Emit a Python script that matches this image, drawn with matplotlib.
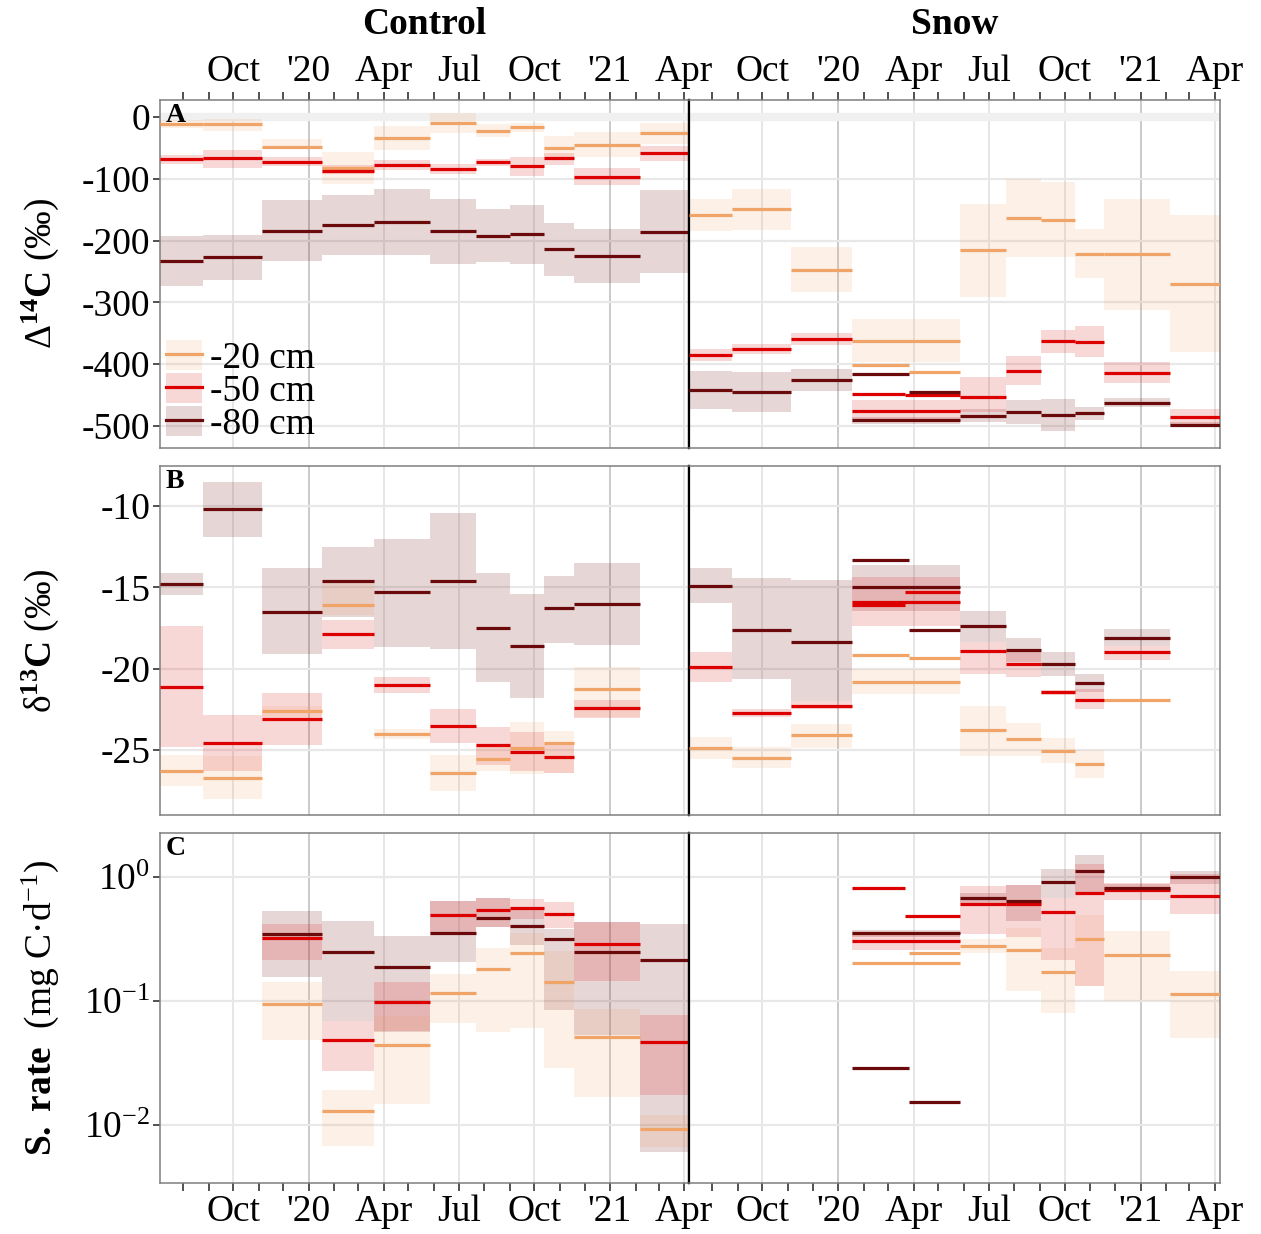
import matplotlib
matplotlib.use('Agg')
import matplotlib.pyplot as plt
import matplotlib.dates as mdates
from matplotlib.patches import Patch
from matplotlib.lines import Line2D
from matplotlib.ticker import FuncFormatter, FixedLocator
import numpy as np

plt.rcParams['font.family'] = ['Liberation Serif', 'DejaVu Serif']
plt.rcParams['mathtext.fontset'] = 'custom'
plt.rcParams['mathtext.rm'] = 'Liberation Serif'
plt.rcParams['mathtext.it'] = 'Liberation Serif:italic'
plt.rcParams['mathtext.bf'] = 'Liberation Serif:bold'
plt.rcParams['axes.unicode_minus'] = False

# ---------------- data: (start, end, value, low, high) ----------------
N = None
# Panel A: Delta14C, Control
a_c20 = [('2019-07-04', '2019-08-25', -11, -17, -5), ('2019-08-25', '2019-11-05', -11, -22, -3),
         ('2019-11-05', '2020-01-17', -49, -52, -35), ('2020-01-17', '2020-03-20', -83, -108, -56),
         ('2020-03-20', '2020-05-27', -34, -53, -15), ('2020-05-27', '2020-07-22', -9, -26, 7),
         ('2020-07-22', '2020-09-02', -22, -32, -12), ('2020-09-02', '2020-10-13', -16, -25, -9),
         ('2020-10-13', '2020-11-18', -50, -65, -30), ('2020-11-18', '2021-02-06', -45, -65, -25),
         ('2021-02-06', '2021-04-07', -26, -43, -9)]
a_c50 = [('2019-07-04', '2019-08-25', -68, -76, -61), ('2019-08-25', '2019-11-05', -66, -82, -53),
         ('2019-11-05', '2020-01-17', -73, -80, -65), ('2020-01-17', '2020-03-20', -87, -93, -78),
         ('2020-03-20', '2020-05-27', -78, -86, -70), ('2020-05-27', '2020-07-22', -84, -92, -76),
         ('2020-07-22', '2020-09-02', -73, -79, -68), ('2020-09-02', '2020-10-13', -80, -96, -64),
         ('2020-10-13', '2020-11-18', -67, -77, -58), ('2020-11-18', '2021-02-06', -97, -110, -83),
         ('2021-02-06', '2021-04-07', -59, -71, -47)]
a_c80 = [('2019-07-04', '2019-08-25', -233, -273, -193), ('2019-08-25', '2019-11-05', -227, -264, -191),
         ('2019-11-05', '2020-01-17', -184, -233, -134), ('2020-01-17', '2020-03-20', -175, -224, -127),
         ('2020-03-20', '2020-05-27', -170, -224, -116), ('2020-05-27', '2020-07-22', -185, -238, -132),
         ('2020-07-22', '2020-09-02', -192, -235, -149), ('2020-09-02', '2020-10-13', -190, -238, -142),
         ('2020-10-13', '2020-11-18', -214, -258, -172), ('2020-11-18', '2021-02-06', -225, -269, -181),
         ('2021-02-06', '2021-04-07', -186, -253, -118)]
# Panel A: Delta14C, Snow
a_s20 = [('2019-07-04', '2019-08-25', -158, -184, -133), ('2019-08-25', '2019-11-05', -149, -183, -117),
         ('2019-11-05', '2020-01-17', -247, -283, -210), ('2020-01-17', '2020-05-27', -363, -397, -327),
         ('2020-01-17', '2020-03-27', -402, N, N), ('2020-03-27', '2020-05-27', -412, N, N),
         ('2020-05-27', '2020-07-22', -215, -292, -140), ('2020-07-22', '2020-09-02', -164, -227, -100),
         ('2020-09-02', '2020-10-13', -166, -227, -105), ('2020-10-13', '2020-11-18', -221, -261, -182),
         ('2020-11-18', '2021-02-06', -222, -312, -132), ('2021-02-06', '2021-04-07', -270, -380, -159)]
a_s50 = [('2019-07-04', '2019-08-25', -385, -395, -376), ('2019-08-25', '2019-11-05', -375, -384, -367),
         ('2019-11-05', '2020-01-17', -359, -369, -350), ('2020-01-17', '2020-03-22', -448, N, N),
         ('2020-03-22', '2020-05-27', -450, N, N), ('2020-01-17', '2020-05-27', -476, -494, -458),
         ('2020-05-27', '2020-07-22', -453, -477, -420), ('2020-07-22', '2020-09-02', -411, -434, -387),
         ('2020-09-02', '2020-10-13', -363, -381, -344), ('2020-10-13', '2020-11-18', -364, -389, -338),
         ('2020-11-18', '2021-02-06', -414, -430, -397), ('2021-02-06', '2021-04-07', -485, -498, -473)]
a_s80 = [('2019-07-04', '2019-08-25', -442, -473, -411), ('2019-08-25', '2019-11-05', -445, -478, -412),
         ('2019-11-05', '2020-01-17', -426, -443, -407), ('2020-01-17', '2020-03-27', -416, N, N),
         ('2020-03-27', '2020-05-27', -445, N, N), ('2020-01-17', '2020-05-27', -491, -497, -485),
         ('2020-05-27', '2020-07-22', -483, -493, -473), ('2020-07-22', '2020-09-02', -477, -497, -458),
         ('2020-09-02', '2020-10-13', -482, -508, -456), ('2020-10-13', '2020-11-18', -479, -490, -469),
         ('2020-11-18', '2021-02-06', -463, -469, -455), ('2021-02-06', '2021-04-07', -498, -502, -493)]

# Panel B: delta13C, Control
b_c20 = [('2019-07-04', '2019-08-25', -26.3, -27.2, -25.3), ('2019-08-25', '2019-11-05', -26.7, -28.0, -25.4),
         ('2019-11-05', '2020-01-17', -22.6, -23.0, -22.3), ('2020-01-17', '2020-03-20', -16.1, -16.7, -14.7),
         ('2020-03-20', '2020-05-27', -24.0, -24.3, -23.7), ('2020-05-27', '2020-07-22', -26.4, -27.5, -25.3),
         ('2020-07-22', '2020-09-02', -25.55, -26.3, -24.7), ('2020-09-02', '2020-10-13', -24.9, -26.5, -23.3),
         ('2020-10-13', '2020-11-18', -24.6, -26.4, -23.85), ('2020-11-18', '2021-02-06', -21.25, -23.0, -19.9)]
b_c50 = [('2019-07-04', '2019-08-25', -21.1, -24.8, -17.4), ('2019-08-25', '2019-11-05', -24.6, -26.3, -22.85),
         ('2019-11-05', '2020-01-17', -23.1, -24.7, -21.5), ('2020-01-17', '2020-03-20', -17.9, -18.8, -17.0),
         ('2020-03-20', '2020-05-27', -21.0, -21.5, -20.5), ('2020-05-27', '2020-07-22', -23.55, -24.6, -22.5),
         ('2020-07-22', '2020-09-02', -24.7, -25.9, -23.6), ('2020-09-02', '2020-10-13', -25.1, -26.3, -23.9),
         ('2020-10-13', '2020-11-18', -25.45, -26.4, -24.6), ('2020-11-18', '2021-02-06', -22.4, -23.05, -21.9)]
b_c80 = [('2019-07-04', '2019-08-25', -14.8, -15.5, -14.1), ('2019-08-25', '2019-11-05', -10.2, -11.9, -8.5),
         ('2019-11-05', '2020-01-17', -16.5, -19.1, -13.8), ('2020-01-17', '2020-03-20', -14.6, -16.8, -12.5),
         ('2020-03-20', '2020-05-27', -15.3, -18.7, -12.0), ('2020-05-27', '2020-07-22', -14.6, -18.8, -10.4),
         ('2020-07-22', '2020-09-02', -17.5, -20.8, -14.15), ('2020-09-02', '2020-10-13', -18.6, -21.8, -15.4),
         ('2020-10-13', '2020-11-18', -16.3, -18.45, -14.3), ('2020-11-18', '2021-02-06', -16.0, -18.55, -13.5)]
# Panel B: delta13C, Snow
b_s20 = [('2019-07-04', '2019-08-25', -24.9, -25.55, -24.2), ('2019-08-25', '2019-11-05', -25.5, -26.1, -24.8),
         ('2019-11-05', '2020-01-17', -24.1, -24.9, -23.4), ('2020-01-17', '2020-03-27', -19.15, N, N),
         ('2020-03-27', '2020-05-27', -19.35, N, N), ('2020-01-17', '2020-05-27', -20.8, -21.55, -20.0),
         ('2020-05-27', '2020-07-22', -23.8, -25.35, -22.3), ('2020-07-22', '2020-09-02', -24.35, -25.35, -23.35),
         ('2020-09-02', '2020-10-13', -25.05, -25.8, -24.25), ('2020-10-13', '2020-11-18', -25.85, -26.7, -25.0),
         ('2020-11-18', '2021-02-06', -21.9, N, N)]
b_s50 = [('2019-07-04', '2019-08-25', -19.9, -20.8, -19.0), ('2019-08-25', '2019-11-05', -22.7, -22.95, -22.5),
         ('2019-11-05', '2020-01-17', -22.3, -22.5, -22.0), ('2020-01-17', '2020-03-22', -16.1, N, N),
         ('2020-03-22', '2020-05-27', -15.3, N, N), ('2020-01-17', '2020-05-27', -15.9, -17.4, -14.35),
         ('2020-05-27', '2020-07-22', -18.9, -20.3, -18.35), ('2020-07-22', '2020-09-02', -19.7, -20.5, -19.0),
         ('2020-09-02', '2020-10-13', -21.45, -21.6, -21.3), ('2020-10-13', '2020-11-18', -21.9, -22.5, -21.25),
         ('2020-11-18', '2021-02-06', -19.0, -19.45, -18.6)]
b_s80 = [('2019-07-04', '2019-08-25', -14.9, -15.95, -13.8), ('2019-08-25', '2019-11-05', -17.6, -20.65, -14.45),
         ('2019-11-05', '2020-01-17', -18.35, -22.0, -14.55), ('2020-01-17', '2020-03-27', -13.35, N, N),
         ('2020-03-27', '2020-05-27', -17.65, N, N), ('2020-01-17', '2020-05-27', -15.0, -16.45, -13.6),
         ('2020-05-27', '2020-07-22', -17.4, -18.35, -16.45), ('2020-07-22', '2020-09-02', -18.85, -19.6, -18.1),
         ('2020-09-02', '2020-10-13', -19.7, -20.45, -19.0), ('2020-10-13', '2020-11-18', -20.9, -21.45, -20.35),
         ('2020-11-18', '2021-02-06', -18.1, -18.6, -17.55)]

# Panel C: S. rate, Control
c_c20 = [('2019-11-05', '2020-01-17', 0.095, 0.048, 0.142), ('2020-01-17', '2020-03-20', 0.0129, 0.0068, 0.0191),
         ('2020-03-20', '2020-05-27', 0.0445, 0.0147, 0.075), ('2020-05-27', '2020-07-22', 0.116, 0.066, 0.165),
         ('2020-07-22', '2020-09-02', 0.182, 0.056, 0.269), ('2020-09-02', '2020-10-13', 0.245, 0.060, 0.35),
         ('2020-10-13', '2020-11-18', 0.141, 0.029, 0.253), ('2020-11-18', '2021-02-06', 0.051, 0.0168, 0.086),
         ('2021-02-06', '2021-04-07', 0.0093, 0.0066, 0.012)]
c_c50 = [('2019-11-05', '2020-01-17', 0.32, 0.214, 0.42), ('2020-01-17', '2020-03-20', 0.048, 0.027, 0.069),
         ('2020-03-20', '2020-05-27', 0.098, 0.057, 0.141), ('2020-05-27', '2020-07-22', 0.495, 0.351, 0.638),
         ('2020-07-22', '2020-09-02', 0.537, 0.397, 0.682), ('2020-09-02', '2020-10-13', 0.56, 0.457, 0.665),
         ('2020-10-13', '2020-11-18', 0.501, 0.384, 0.622), ('2020-11-18', '2021-02-06', 0.288, 0.146, 0.435),
         ('2021-02-06', '2021-04-07', 0.047, 0.0173, 0.077)]
c_c80 = [('2019-11-05', '2020-01-17', 0.344, 0.155, 0.533), ('2020-01-17', '2020-03-20', 0.248, 0.069, 0.443),
         ('2020-03-20', '2020-05-27', 0.189, 0.056, 0.336), ('2020-05-27', '2020-07-22', 0.351, 0.205, 0.638),
         ('2020-07-22', '2020-09-02', 0.466, 0.392, 0.682), ('2020-09-02', '2020-10-13', 0.402, 0.28, 0.55),
         ('2020-10-13', '2020-11-18', 0.316, 0.085, 0.38), ('2020-11-18', '2021-02-06', 0.248, 0.053, 0.435),
         ('2021-02-06', '2021-04-07', 0.213, 0.0061, 0.414)]
# Panel C: S. rate, Snow
c_s20 = [('2020-01-17', '2020-03-27', 0.351, N, N), ('2020-01-17', '2020-05-27', 0.201, N, N),
         ('2020-03-27', '2020-05-27', 0.245, N, N), ('2020-05-27', '2020-07-22', 0.279, 0.245, 0.316),
         ('2020-07-22', '2020-09-02', 0.255, 0.121, 0.389), ('2020-09-02', '2020-10-13', 0.17, 0.08, 0.266),
         ('2020-10-13', '2020-11-18', 0.318, 0.133, 0.49), ('2020-11-18', '2021-02-06', 0.233, 0.1, 0.366),
         ('2021-02-06', '2021-04-07', 0.113, 0.05, 0.175)]
c_s50 = [('2020-01-17', '2020-03-22', 0.816, N, N), ('2020-03-22', '2020-05-27', 0.483, N, N),
         ('2020-01-17', '2020-05-27', 0.304, 0.257, 0.36), ('2020-05-27', '2020-07-22', 0.6, 0.344, 0.841),
         ('2020-07-22', '2020-09-02', 0.607, 0.33, 0.868), ('2020-09-02', '2020-10-13', 0.517, 0.214, 0.67),
         ('2020-10-13', '2020-11-18', 0.744, 0.133, 1.28), ('2020-11-18', '2021-02-06', 0.781, 0.65, 0.9),
         ('2021-02-06', '2021-04-07', 0.7, 0.498, 1.06)]
c_s80 = [('2020-01-17', '2020-03-27', 0.029, N, N), ('2020-03-27', '2020-05-27', 0.0154, N, N),
         ('2020-01-17', '2020-05-27', 0.35, 0.33, 0.37), ('2020-05-27', '2020-07-22', 0.674, 0.611, 0.735),
         ('2020-07-22', '2020-09-02', 0.638, 0.44, 0.868), ('2020-09-02', '2020-10-13', 0.918, 0.67, 1.167),
         ('2020-10-13', '2020-11-18', 1.11, 0.758, 1.49), ('2020-11-18', '2021-02-06', 0.816, 0.758, 0.884),
         ('2021-02-06', '2021-04-07', 0.994, 0.884, 1.11)]

depth_labels = ['-20 cm', '-50 cm', '-80 cm']
treatments = ['Control', 'Snow']
panel_letters = ['A', 'B', 'C']
x_range = ('2019-07-04', '2021-04-07')

# ---------------- styles ----------------
LINE = ['#F0A468', '#DD0000', '#6A0A0A']
FILL = ['#F0A060', '#DD2222', '#7A1F1F']
ALPHA = [0.15, 0.18, 0.18]

W, H = 1261, 1234
fig = plt.figure(figsize=(W / 100, H / 100), dpi=100)

cols = [(160, 689), (689, 1220)]
rows = [(100, 448), (466, 815), (833, 1183)]

data = [[[a_c20, a_c50, a_c80], [a_s20, a_s50, a_s80]],
        [[b_c20, b_c50, b_c80], [b_s20, b_s50, b_s80]],
        [[c_c20, c_c50, c_c80], [c_s20, c_s50, c_s80]]]

ylims = [(-535.5, 27.5), (-29.0, -7.54), (0.0034, 2.26)]
yticks = [[0, -100, -200, -300, -400, -500], [-10, -15, -20, -25], [1, 0.1, 0.01]]
ylabels = ['Δ$^{\\mathbf{14}}$$\\mathbf{C}$ (‰)', 'δ$^{\\mathbf{13}}$$\\mathbf{C}$ (‰)',
           '$\\mathbf{S.\\ rate}$  (mg C·d$^{\\mathregular{-1}}$)']

FS = 27
x0 = mdates.datestr2num(x_range[0])
x1 = mdates.datestr2num(x_range[1])


def xfmt(v, pos=None):
    d = mdates.num2date(v)
    if d.month == 1:
        return "'" + d.strftime('%y')
    return d.strftime('%b')


def yfmt_log(v, pos=None):
    e = int(round(np.log10(v)))
    return '$\\mathregular{10^{%d}}$' % e


quarters = [mdates.datestr2num(s) for s in
            ['2019-10-01', '2020-01-01', '2020-04-01', '2020-07-01', '2020-10-01', '2021-01-01', '2021-04-01']]

axes = {}
for r in range(3):
    for c in range(2):
        l, rr = cols[c]
        t, b = rows[r]
        ax = fig.add_axes([l / W, 1 - b / H, (rr - l) / W, (b - t) / H])
        axes[(r, c)] = ax
        if r == 2:
            ax.set_yscale('log')
        ax.set_xlim(x0, x1)
        ax.set_ylim(*ylims[r])
        ax.set_facecolor('white')
        # grid
        for q in quarters:
            d = mdates.num2date(q)
            ax.axvline(q, color='#c6c6c6' if d.month == 1 else '#e4e4e4', lw=1.3, zorder=0)
        for yv in yticks[r]:
            ax.axhline(yv, color='#e8e8e8', lw=1.6, zorder=0)
        if r == 0:
            ax.axhline(0, color='#f0f0f0', lw=6, zorder=1)
        # data
        groups = data[r][c]
        for k in [2, 1, 0]:
            for s, e, v, lo, hi in groups[k]:
                sn, en = mdates.datestr2num(s), mdates.datestr2num(e)
                if lo is not None:
                    ax.fill_between([sn, en], [lo, lo], [hi, hi], color=FILL[k], alpha=ALPHA[k],
                                    lw=0, zorder=2)
        for k in [0, 1, 2]:
            for s, e, v, lo, hi in groups[k]:
                sn, en = mdates.datestr2num(s), mdates.datestr2num(e)
                ax.hlines(v, sn, en, color=LINE[k], lw=2.3, zorder=3)
        # x ticks
        ax.xaxis.set_major_locator(mdates.MonthLocator(bymonth=[1, 4, 7, 10]))
        ax.xaxis.set_minor_locator(mdates.MonthLocator())
        ax.xaxis.set_major_formatter(FuncFormatter(xfmt))
        if r == 0:
            ax.tick_params(axis='x', which='both', top=True, bottom=False, labeltop=True,
                           labelbottom=False, direction='out', length=6, width=1.2,
                           color='#333333', labelsize=FS, pad=2)
        elif r == 2:
            ax.tick_params(axis='x', which='both', top=False, bottom=True, labeltop=False,
                           labelbottom=True, direction='out', length=6, width=1.2,
                           color='#333333', labelsize=FS, pad=2)
        else:
            ax.tick_params(axis='x', which='both', top=False, bottom=False, labeltop=False,
                           labelbottom=False)
        # y ticks
        ax.yaxis.set_major_locator(FixedLocator(yticks[r]))
        ax.yaxis.set_minor_locator(FixedLocator([]))
        if r == 2:
            ax.yaxis.set_major_formatter(FuncFormatter(yfmt_log))
        if c == 0:
            ax.tick_params(axis='y', which='major', direction='out', length=5, width=1.2,
                           color='#333333', labelsize=FS, pad=2)
        else:
            ax.tick_params(axis='y', which='both', left=False, labelleft=False)
        for sp in ax.spines.values():
            sp.set_color('#7f7f7f')
            sp.set_linewidth(1.1)
        if c == 0:
            ax.spines['right'].set_color('black')
            ax.spines['right'].set_linewidth(1.6)
        else:
            ax.spines['left'].set_color('black')
            ax.spines['left'].set_linewidth(1.6)
        if c == 0:
            ax.text(0.01, 0.992, panel_letters[r], transform=ax.transAxes, fontsize=20,
                    fontweight='bold', ha='left', va='top', zorder=5)

# titles
for c in range(2):
    l, rr = cols[c]
    fig.text((l + rr) / 2 / W, 1 - 25 / H, treatments[c], ha='center', va='center',
             fontsize=FS, fontweight='bold')

# y labels
for r in range(3):
    t, b = rows[r]
    fig.text(40 / W, 1 - (t + b) / 2 / H, ylabels[r], rotation=90, ha='center', va='center',
             fontsize=FS)

# legend
handles = [(Patch(facecolor=FILL[k], alpha=ALPHA[k], lw=0), Line2D([], [], color=LINE[k], lw=2.3))
           for k in range(3)]
axes[(0, 0)].legend(handles, depth_labels, loc='lower left', bbox_to_anchor=(-0.002, -0.005),
                    frameon=False, fontsize=FS, handlelength=0.95, handleheight=0.85,
                    labelspacing=-0.07, handletextpad=0.2, borderpad=0.1, borderaxespad=0.1)

fig.savefig('out.png', dpi=100)
